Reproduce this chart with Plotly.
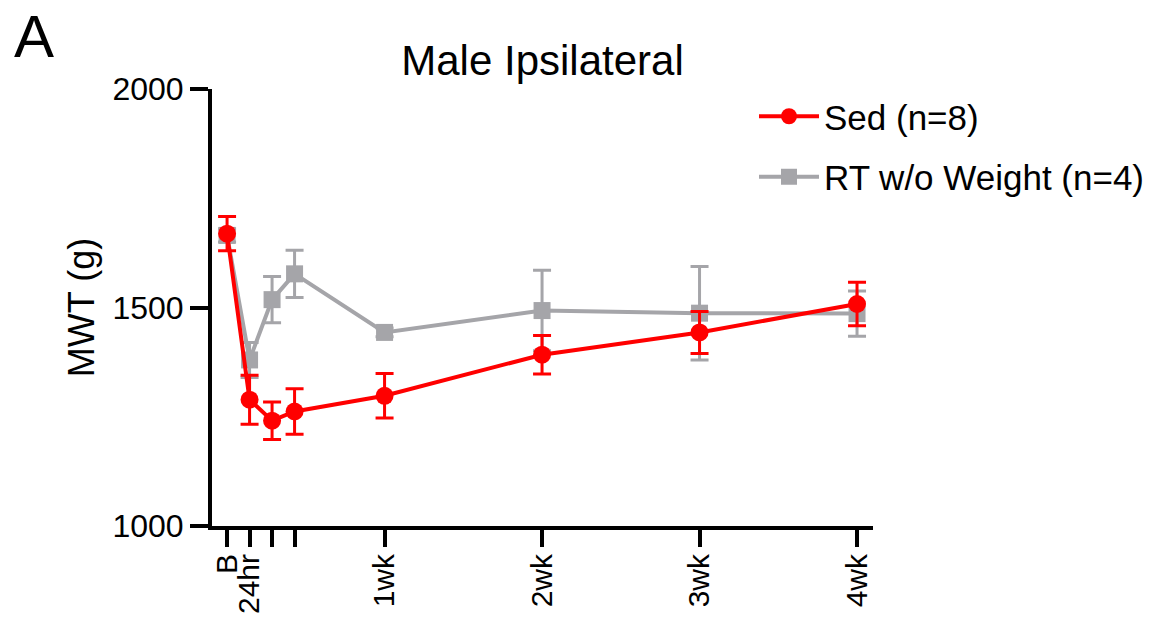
import plotly.graph_objects as go

# Data
days = [0, 1, 2, 3, 7, 14, 21, 28]
tick_labels = ["B", "24hr", "", "", "1wk", "2wk", "3wk", "4wk"]
sed_mean = [1669, 1289, 1241, 1262, 1298, 1392, 1443, 1508]
sed_err = [39, 56, 43, 52, 51, 44, 48, 50]
rt_mean = [1665, 1380, 1518, 1577, 1443, 1493, 1487, 1486]
rt_err = [15, 40, 53, 54, 10, 92, 107, 52]

RED = "#FF0000"
GRAY = "#A5A5A9"
FONT = "Liberation Sans, Arial, sans-serif"

W, H = 1160, 623
L, R, T, B = 212, 287, 89, 97
PW, PH = W - L - R, H - T - B

fig = go.Figure()
fig.add_trace(go.Scatter(
    x=days, y=rt_mean, name="RT w/o Weight (n=4)", mode="lines+markers",
    line=dict(color=GRAY, width=4),
    marker=dict(symbol="square", size=17, color=GRAY),
    error_y=dict(type="data", array=rt_err, visible=True, color=GRAY, thickness=3, width=9),
    legendgroup="rt", legendrank=2,
))
fig.add_trace(go.Scatter(
    x=days, y=sed_mean, name="Sed (n=8)", mode="lines+markers",
    line=dict(color=RED, width=4),
    marker=dict(symbol="circle", size=18, color=RED),
    error_y=dict(type="data", array=sed_err, visible=True, color=RED, thickness=3, width=9),
    legendgroup="sed", legendrank=1,
))

fig.update_layout(
    width=W, height=H,
    margin=dict(l=L, r=R, t=T, b=B, autoexpand=False),
    paper_bgcolor="white", plot_bgcolor="white",
    font=dict(family=FONT, color="black", size=32),
    title=dict(text="Male Ipsilateral", x=0.5, xref="paper", y=1 - 60 / H,
               yanchor="middle", font=dict(size=42, family=FONT, color="black")),
    showlegend=True,
    legend=dict(x=(754 - L) / PW, xanchor="left",
                y=(H - B - 87) / PH, yanchor="top", yref="paper",
                font=dict(size=35, family=FONT, color="black"),
                itemwidth=60, tracegroupgap=12, bgcolor="rgba(0,0,0,0)"),
    xaxis=dict(range=[-0.67, 28.71], tickmode="array", tickvals=days, ticktext=tick_labels,
               tickangle=-90, showgrid=False, zeroline=False, showline=True,
               linecolor="black", linewidth=4, ticks="outside", ticklen=17,
               tickwidth=3.5, tickcolor="black", tickfont=dict(size=30),
               ticklabelstandoff=-5),
    yaxis=dict(range=[1000, 2000], tickvals=[1000, 1500, 2000], showgrid=False,
               zeroline=False, showline=True, linecolor="black", linewidth=4,
               ticks="outside", ticklen=18, tickwidth=3.5, tickcolor="black",
               tickfont=dict(size=32),
               title=dict(text="MWT (g)", font=dict(size=36), standoff=8)),
    annotations=[dict(text="A", xref="paper", yref="paper", showarrow=False,
                      x=(34 - L) / PW, y=(H - B - 1) / PH,
                      xanchor="center", yanchor="top",
                      font=dict(size=60, family=FONT, color="black"))],
)

fig.write_html("out.html", config={"displayModeBar": False},
               post_script="document.body.style.margin='0';document.body.style.overflow='hidden';")
